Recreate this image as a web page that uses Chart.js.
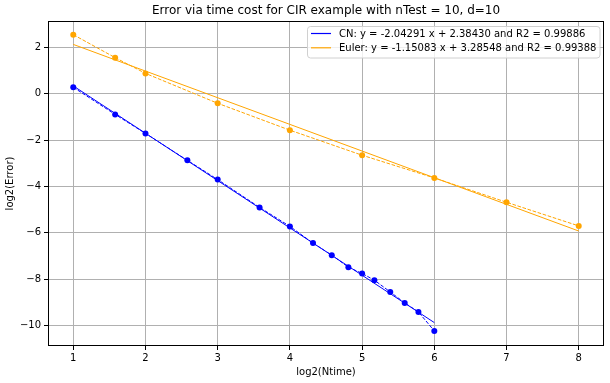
<!DOCTYPE html>
<html>
<head>
<meta charset="utf-8">
<script src="https://cdn.jsdelivr.net/npm/chart.js@4"></script>
<style>
  html, body { margin: 0; padding: 0; background: #fff; }
  #wrap { width: 610px; height: 383px; }
</style>
</head>
<body>
<div id="wrap"><canvas id="myChart" width="610" height="383"></canvas></div>
<script>
const titleText = "Error via time cost for CIR example with nTest = 10, d=10";
const xLabel = "log2(Ntime)";
const yLabel = "log2(Error)";

// CN data points (log2 Ntime, log2 Error)
const cnX = [1, 1.58, 2, 2.58, 3, 3.58, 4, 4.32, 4.58, 4.81, 5, 5.17, 5.39, 5.59, 5.78, 6];
const cnY = [0.28, -0.89, -1.71, -2.87, -3.70, -4.90, -5.72, -6.44, -6.96, -7.48, -7.75, -8.04, -8.55, -9.02, -9.41, -10.23];

// Euler data points
const eulerX = [1, 1.58, 2, 3, 4, 5, 6, 7, 8];
const eulerY = [2.55, 1.56, 0.88, -0.41, -1.57, -2.65, -3.63, -4.68, -5.70];

// fitted lines, end points
const cnFitX = [1, 6];
const cnFitY = [0.34, -9.87];
const eulerFitX = [1, 8];
const eulerFitY = [2.13, -5.92];

const legendLabels = [
    "CN: y = -2.04291 x + 2.38430 and R2 = 0.99886",
    "Euler: y = -1.15083 x + 3.28548 and R2 = 0.99388"
];
const legendColors = ["blue", "orange"];

const xTicks = [1, 2, 3, 4, 5, 6, 7, 8];
const yTicks = [-10, -8, -6, -4, -2, 0, 2];

const FONT = "'DejaVu Sans', sans-serif";

const toPoints = (xs, ys) => xs.map((x, i) => ({ x, y: ys[i] }));

const frameAndText = {
    id: "frameAndText",
    afterDraw(chart) {
        const { ctx, chartArea: a } = chart;
        ctx.save();
        // axes frame
        ctx.strokeStyle = "#000";
        ctx.lineWidth = 1;
        ctx.strokeRect(Math.round(a.left) + 0.5, Math.round(a.top) + 0.5,
            Math.round(a.right - a.left) - 1, Math.round(a.bottom - a.top) - 1);

        // title
        ctx.fillStyle = "#000";
        ctx.font = "12px " + FONT;
        ctx.textAlign = "center";
        ctx.textBaseline = "alphabetic";
        ctx.fillText(titleText, (a.left + a.right) / 2, 14);

        // legend
        const bx = 307.5, by = 26.5, bw = 292.5, bh = 31.5, r = 3;
        ctx.beginPath();
        ctx.moveTo(bx + r, by);
        ctx.arcTo(bx + bw, by, bx + bw, by + bh, r);
        ctx.arcTo(bx + bw, by + bh, bx, by + bh, r);
        ctx.arcTo(bx, by + bh, bx, by, r);
        ctx.arcTo(bx, by, bx + bw, by, r);
        ctx.closePath();
        ctx.fillStyle = "rgba(255,255,255,0.8)";
        ctx.fill();
        ctx.strokeStyle = "#d0d0d0";
        ctx.stroke();

        ctx.font = "10px " + FONT;
        ctx.textAlign = "left";
        ctx.textBaseline = "middle";
        legendLabels.forEach((label, i) => {
            const y = 33.5 + i * 14.3;
            ctx.strokeStyle = legendColors[i];
            ctx.lineWidth = 1.2;
            ctx.beginPath();
            ctx.moveTo(311, y);
            ctx.lineTo(331, y);
            ctx.stroke();
            ctx.fillStyle = "#000";
            ctx.fillText(label, 339, y + 0.5);
        });
        ctx.restore();
    }
};

const dashed = [3.7, 1.6];

new Chart(document.querySelector("#myChart"), {
    type: "scatter",
    data: {
        datasets: [
            {
                label: "CN data",
                data: toPoints(cnX, cnY),
                showLine: true,
                borderColor: "blue",
                backgroundColor: "blue",
                borderWidth: 1,
                borderDash: dashed,
                pointRadius: 3,
                pointBorderWidth: 0
            },
            {
                label: "CN fit",
                data: toPoints(cnFitX, cnFitY),
                showLine: true,
                borderColor: "blue",
                borderWidth: 1,
                pointRadius: 0
            },
            {
                label: "Euler data",
                data: toPoints(eulerX, eulerY),
                showLine: true,
                borderColor: "orange",
                backgroundColor: "orange",
                borderWidth: 1,
                borderDash: dashed,
                pointRadius: 3,
                pointBorderWidth: 0
            },
            {
                label: "Euler fit",
                data: toPoints(eulerFitX, eulerFitY),
                showLine: true,
                borderColor: "orange",
                borderWidth: 1,
                pointRadius: 0
            }
        ]
    },
    options: {
        responsive: false,
        animation: false,
        layout: { padding: { top: 21, right: 6, left: 0, bottom: 0 } },
        plugins: {
            legend: { display: false },
            title: { display: false },
            tooltip: { enabled: false }
        },
        scales: {
            x: {
                type: "linear",
                min: 0.65,
                max: 8.35,
                afterBuildTicks: scale => {
                    scale.ticks = xTicks.map(v => ({ value: v }));
                },
                afterFit: scale => {
                    scale.height = 37;
                },
                grid: {
                    color: "#b0b0b0",
                    lineWidth: 1,
                    tickColor: "#000",
                    tickLength: 4,
                    drawTicks: true
                },
                border: { display: false },
                ticks: {
                    color: "#000",
                    padding: 2,
                    maxRotation: 0,
                    font: { family: FONT, size: 10 },
                    callback: v => String(v)
                },
                title: {
                    display: true,
                    text: xLabel,
                    color: "#000",
                    font: { family: FONT, size: 10 },
                    padding: { top: 0, bottom: 5 }
                }
            },
            y: {
                type: "linear",
                min: -10.88,
                max: 3.14,
                afterBuildTicks: scale => {
                    scale.ticks = yTicks.map(v => ({ value: v }));
                },
                afterFit: scale => {
                    scale.width = 48;
                },
                grid: {
                    color: "#b0b0b0",
                    lineWidth: 1,
                    tickColor: "#000",
                    tickLength: 4,
                    drawTicks: true
                },
                border: { display: false },
                ticks: {
                    color: "#000",
                    padding: 3,
                    font: { family: FONT, size: 10 },
                    callback: v => (v < 0 ? "\u2212" + Math.abs(v) : String(v))
                },
                title: {
                    display: true,
                    text: yLabel,
                    color: "#000",
                    font: { family: FONT, size: 10 },
                    padding: { top: 4, bottom: 0 }
                }
            }
        }
    },
    plugins: [frameAndText]
});
</script>
</body>
</html>
